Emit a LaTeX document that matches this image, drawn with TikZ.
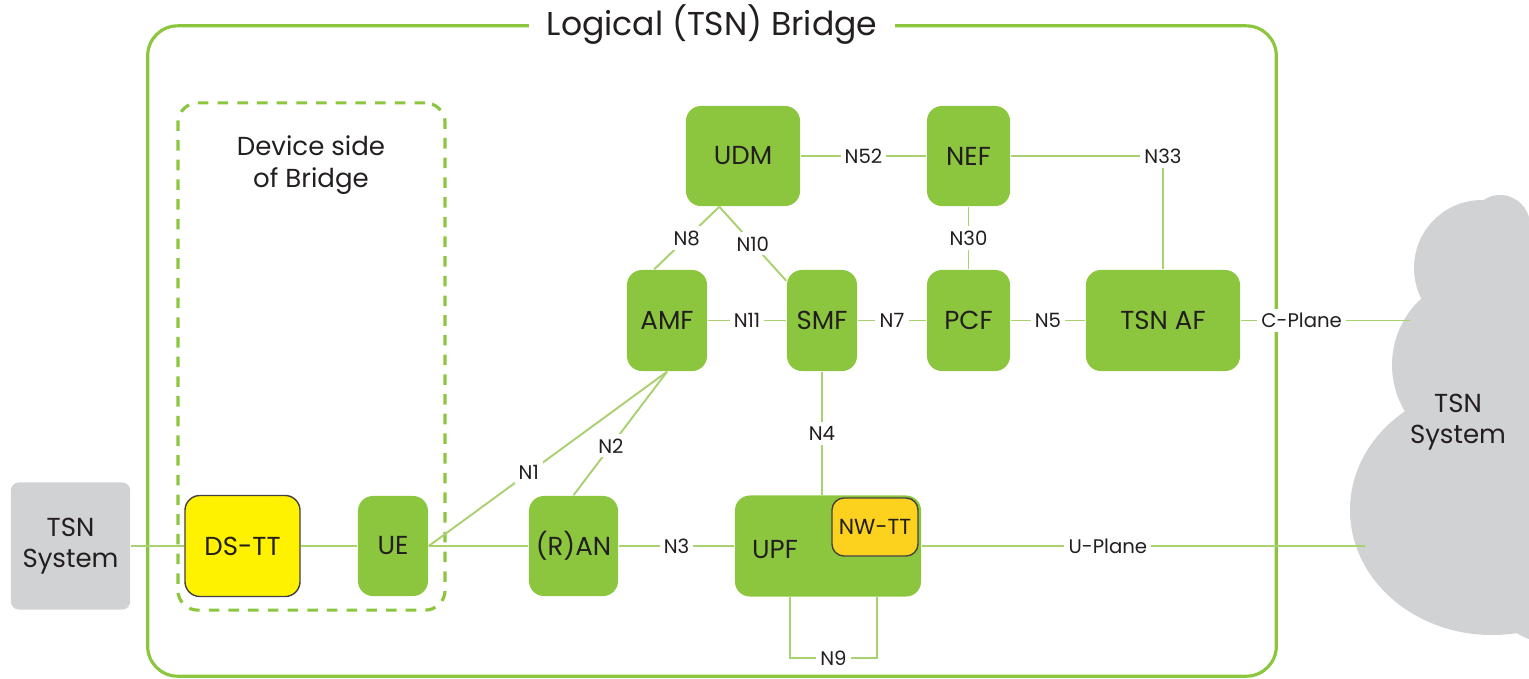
\documentclass[tikz,border=0pt]{standalone}
\usepackage{fontspec}
\setmainfont{Poppins}
\definecolor{nfgreen}{HTML}{8CC63F}
\definecolor{linkgreen}{HTML}{AAD170}
\definecolor{sysgray}{HTML}{D1D2D4}
\definecolor{dsyellow}{HTML}{FFF200}
\definecolor{nwyellow}{HTML}{FDD21E}
\definecolor{txt}{HTML}{231F20}
\tikzset{
  nf/.style={fill=nfgreen, rounded corners=0.15cm, text=txt, inner sep=0pt,
    font=\fontsize{7.4}{9}\selectfont},
  tt/.style={nf, draw=txt!85, line width=0.4pt},
  sysbox/.style={fill=sysgray, rounded corners=0.08cm, text=txt, align=center,
    font=\fontsize{7.4}{9}\selectfont},
  lbl/.style={fill=white, inner sep=1.2pt, text=txt, font=\fontsize{5.6}{7}\selectfont},
  link/.style={draw=linkgreen, line width=0.55pt},
}
\begin{document}
\begin{tikzpicture}[x=0.01cm,y=-0.01cm]
  \useasboundingbox (0,0) rectangle (1529,678);
  % TSN system (cloud), right
  \fill[sysgray] (1482,268) circle (68);
  \fill[sysgray] (1482,365) circle (90);
  \fill[sysgray] (1492,510) ellipse (142 and 125);
  \fill[sysgray] (1500,225) circle (30);
  \fill[sysgray] (1480,230) rectangle (1540,600);
  \fill[sysgray] (1560,560) circle (85);
  \node[text=txt, align=center, font=\fontsize{7.4}{9}\selectfont] (tsnr) at (1458,422) {TSN\\System};
  \coordinate (cplane) at (1410,320.5);
  \coordinate (uplane) at (1365,546);
  % frames
  \node[draw=nfgreen, line width=0.9pt, rounded corners=0.3cm,
    minimum width=11.28cm, minimum height=6.5cm] (bridge) at (712,351) {};
  \node[fill=white, inner xsep=5pt, text=txt, font=\fontsize{9.4}{11}\selectfont]
    (title) at (bridge.north) {Logical (TSN) Bridge};
  \node[draw=nfgreen, line width=0.9pt, dash pattern=on 3pt off 2.6pt,
    rounded corners=0.2cm, minimum width=2.67cm, minimum height=5.07cm] (devside) at (311.5,356.5) {};
  \node[text=txt, align=center, font=\fontsize{7.4}{9}\selectfont] (devtxt) at (311,165) {Device side\\of Bridge};
  % network functions
  \node[sysbox, minimum width=1.15cm, minimum height=1.27cm] (tsnl) at (70.5,546) {TSN\\System};
  \node[tt, fill=dsyellow, minimum width=1.15cm, minimum height=1.01cm] (dstt) at (242.5,546) {DS-TT};
  \node[nf, minimum width=0.70cm, minimum height=1cm] (ue) at (393,546) {UE};
  \node[nf, minimum width=0.89cm, minimum height=1cm] (ran) at (573.5,546) {(R)AN};
  \node[nf, minimum width=1.86cm, minimum height=1.01cm] (upf) at (828,546) {};
  \node[text=txt, font=\fontsize{7.4}{9}\selectfont] (upftxt) at (775,550) {UPF};
  \node[tt, fill=nwyellow, rounded corners=0.12cm, minimum width=0.86cm, minimum height=0.58cm,
    font=\fontsize{6.2}{7}\selectfont] (nwtt) at (875,527) {NW-TT};
  \node[nf, minimum width=1.14cm, minimum height=1cm] (udm) at (743,156) {UDM};
  \node[nf, minimum width=0.83cm, minimum height=1cm] (nef) at (968.5,156) {NEF};
  \node[nf, minimum width=0.80cm, minimum height=1.01cm] (amf) at (667,320.5) {AMF};
  \node[nf, minimum width=0.70cm, minimum height=1.01cm] (smf) at (822,320.5) {SMF};
  \node[nf, minimum width=0.83cm, minimum height=1.01cm] (pcf) at (968.5,320.5) {PCF};
  \node[nf, minimum width=1.54cm, minimum height=1.01cm] (tsnaf) at (1163,320.5) {TSN AF};
  % reference points
  \draw[link] (tsnl) -- (dstt);
  \draw[link] (dstt) -- (ue);
  \draw[link] (ue) -- (ran);
  \draw[link] (ue.east) -- node[lbl, pos=0.42]{N1} (amf.south);
  \draw[link] (ran.north) -- node[lbl, pos=0.4]{N2} (amf.south);
  \draw[link] (ran) -- node[lbl]{N3} (upf);
  \draw[link] (smf.south) -- node[lbl]{N4} (smf.south |- upf.north);
  \draw[link] ([xshift=-0.38cm]upf.south) -- ++(0,61) -- node[lbl]{N9} ++(87,0) -- ++(0,-61);
  \draw[link] (upf.east) -- node[lbl, pos=0.42]{U-Plane} (uplane);
  \draw[link] (tsnaf.east) -- node[lbl, pos=0.36]{C-Plane} (cplane);
  \draw[link] (amf) -- node[lbl]{N11} (smf);
  \draw[link] (smf) -- node[lbl]{N7} (pcf);
  \draw[link] (pcf) -- node[lbl]{N5} (tsnaf);
  \draw[link] (udm) -- node[lbl]{N52} (nef);
  \draw[link] (nef.east) -| node[lbl]{N33} (tsnaf.north);
  \draw[link] (nef) -- node[lbl]{N30} (pcf);
  \draw[link] (udm.-115) -- node[lbl]{N8} (amf.104);
  \draw[link] (udm.-115) -- node[lbl]{N10} (smf.132);
\end{tikzpicture}
\end{document}
